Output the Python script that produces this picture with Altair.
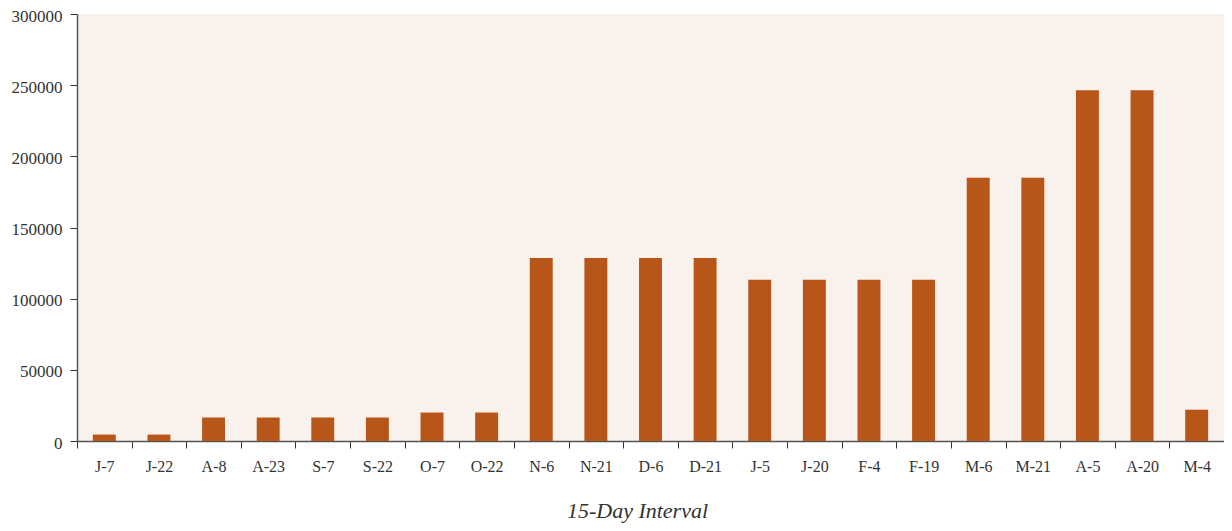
import altair as alt
import pandas as pd

labels = ["J-7", "J-22", "A-8", "A-23", "S-7", "S-22", "O-7", "O-22", "N-6", "N-21",
          "D-6", "D-21", "J-5", "J-20", "F-4", "F-19", "M-6", "M-21", "A-5", "A-20", "M-4"]
values = [4500, 4500, 16500, 16500, 16500, 16500, 20000, 20000, 128500, 128500,
          128500, 128500, 113300, 113300, 113300, 113300, 185000, 185000, 246500, 246500, 22000]

df = pd.DataFrame({"interval": labels, "value": values})

font = "Liberation Serif"

chart = alt.Chart(df).mark_bar(color="#b8561a", width=alt.RelativeBandSize(0.42)).encode(
    x=alt.X("interval:N", sort=labels, title="15-Day Interval",
            scale=alt.Scale(paddingInner=0, paddingOuter=0),
            axis=alt.Axis(labelAngle=0, tickBand="extent", labelFont=font, labelFontSize=16,
                          labelColor="#333333", labelPadding=10, tickSize=7,
                          tickColor="#333333", domainColor="#555555", domainWidth=1.5,
                          titleFont=font, titleFontSize=22, titleFontStyle="italic",
                          titleFontWeight="normal", titleColor="#333333", titlePadding=26,
                          titleX=560, titleAlign="center")),
    y=alt.Y("value:Q", title=None,
            scale=alt.Scale(domain=[0, 300000], nice=False),
            axis=alt.Axis(values=[0, 50000, 100000, 150000, 200000, 250000, 300000],
                          format="d", grid=False, labelFont=font, labelFontSize=17,
                          labelColor="#333333", labelPadding=8, tickSize=7, labelOffset=2,
                          tickColor="#333333", domainColor="#555555", domainWidth=1.5)),
).properties(
    width=1147, height=427,
    autosize=alt.AutoSizeParams(type="none"),
    padding={"left": 69, "top": 6, "right": 0, "bottom": 82},
).configure_view(
    fill="#f9f1eb", stroke=None
)

chart.save("out.html", embed_options={"renderer": "svg", "actions": False})
